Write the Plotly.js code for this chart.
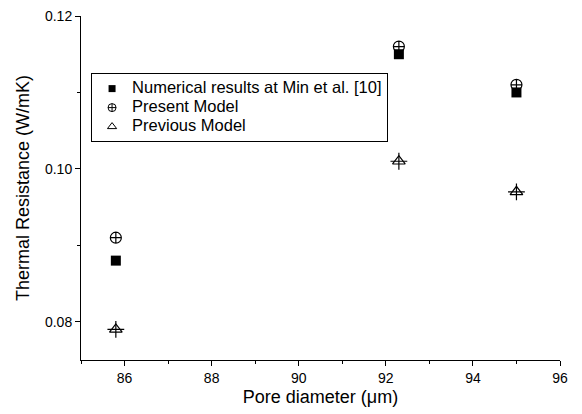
<!DOCTYPE html>
<html>
<head>
<meta charset="utf-8">
<script src="https://cdn.plot.ly/plotly-3.0.1.min.js"></script>
<style>body{margin:0;background:#fff}#chart{width:582px;height:414px}</style>
</head>
<body>
<div id="chart"></div>
<script>
var poreDiameter = [85.8, 92.3, 95.0];
var numerical = [0.088, 0.115, 0.110];
var presentModel = [0.091, 0.116, 0.111];
var previousModel = [0.079, 0.101, 0.097];
var xTicks = [86, 88, 90, 92, 94, 96];
var yTicks = [0.08, 0.10, 0.12];
var seriesNames = ['Numerical results at Min et al. [10]', 'Present Model', 'Previous Model'];

function lg(t) { return '<span style="font-size:16.5px">' + t + '</span>'; }

var traces = [
  {x: poreDiameter, y: numerical, mode: 'markers', type: 'scatter', showlegend: false,
   name: seriesNames[0],
   marker: {symbol: 'square', size: 10, color: '#000'}},
  {x: poreDiameter, y: presentModel, mode: 'markers', type: 'scatter', showlegend: false,
   name: seriesNames[1],
   marker: {symbol: 'circle-cross-open', size: 11, color: '#000', line: {width: 1.2, color: '#000'}}},
  {x: poreDiameter, y: previousModel, mode: 'markers', type: 'scatter', showlegend: false,
   name: seriesNames[2],
   marker: {symbol: 'triangle-up-open', size: 11, color: '#000', line: {width: 1.2, color: '#000'}}},
  {x: poreDiameter, y: previousModel, mode: 'markers', type: 'scatter', showlegend: false,
   name: seriesNames[2],
   marker: {symbol: 'cross-thin-open', size: 12, color: '#000', line: {width: 1.2, color: '#000'}}},
  // legend-only entries (no marks drawn)
  {x: [null], y: [null], mode: 'markers', type: 'scatter', name: lg(seriesNames[0]),
   marker: {symbol: 'square', size: 7, color: '#000'}},
  {x: [null], y: [null], mode: 'markers', type: 'scatter', name: lg(seriesNames[1]),
   marker: {symbol: 'circle-cross-open', size: 8, color: '#000', line: {width: 1, color: '#000'}}},
  {x: [null], y: [null], mode: 'markers', type: 'scatter', name: lg(seriesNames[2]),
   marker: {symbol: 'triangle-up-open', size: 8, color: '#000', line: {width: 1, color: '#000'}}}
];

var layout = {
  width: 582, height: 414,
  margin: {l: 81, r: 22, t: 16, b: 54},
  paper_bgcolor: '#fff', plot_bgcolor: '#fff',
  font: {family: 'Liberation Sans, Arial, sans-serif', color: '#000', size: 14},
  showlegend: true,
  legend: {x: 0.021, y: 0.834, xanchor: 'left', yanchor: 'top',
           bordercolor: '#000', borderwidth: 1, bgcolor: '#fff',
           font: {size: 12}, tracegroupgap: 0, itemsizing: 'trace'},
  xaxis: {range: [85, 96], tickvals: xTicks, ticktext: xTicks.map(String),
          showgrid: false, zeroline: false, showline: true, linecolor: '#000', linewidth: 1,
          ticks: 'outside', ticklen: 5, tickcolor: '#000',
          minor: {dtick: 1, tick0: 85, ticks: 'outside', ticklen: 3, tickcolor: '#000', showgrid: false},
          title: {text: 'Pore diameter (μm)', font: {size: 18}, standoff: 5}},
  yaxis: {range: [0.075, 0.12], tickvals: yTicks, ticktext: ['0.08', '0.10', '0.12'],
          showgrid: false, zeroline: false, showline: true, linecolor: '#000', linewidth: 1,
          ticks: 'outside', ticklen: 5, tickcolor: '#000',
          minor: {dtick: 0.01, tick0: 0.08, ticks: 'outside', ticklen: 3, tickcolor: '#000', showgrid: false},
          title: {text: 'Thermal Resistance (W/mK)', font: {size: 18}, standoff: 10}}
};

Plotly.newPlot('chart', traces, layout, {displayModeBar: false, staticPlot: true});
</script>
</body>
</html>
